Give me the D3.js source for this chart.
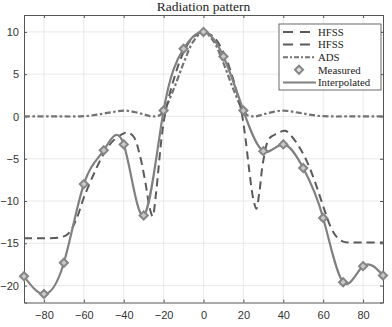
<!DOCTYPE html>
<html><head><meta charset="utf-8">
<script src="https://cdn.jsdelivr.net/npm/d3@7"></script>
<style>body{margin:0;background:#fff}svg{display:block}</style>
</head><body>
<script>
// ---- data ----
const measuredAngles = [-90,-80,-70,-60,-50,-40,-30,-20,-10,0,10,20,30,40,50,60,70,80,90];
const measuredValues = [-18.9,-21.0,-17.3,-8.0,-4.0,-3.3,-11.7,0.7,8.0,10.0,7.1,0.7,-4.1,-3.3,-6.1,-12.0,-19.6,-17.7,-18.8];

const hfssAngles = [-90,-80,-72,-68,-64,-60,-55,-50,-45,-40,-38,-35,-32,-29,-27,-25.5,-24,-22.5,-21,-19,-15,-10,-5,0,5,10,15,19,21,23,25,26.5,28,30,33,37,41,44,48,52,56,60,64,67,70,73,80,90];
const hfssValues = [-14.4,-14.4,-14.3,-13.9,-12.3,-9.6,-6.8,-4.4,-2.8,-2.0,-1.9,-2.4,-4.5,-8.0,-10.8,-11.8,-9.5,-6.0,-2.5,0.6,4.3,7.6,9.4,10.0,9.4,7.6,4.3,0.6,-2.5,-6.5,-9.8,-10.9,-9.0,-5.2,-2.6,-2.0,-1.7,-2.3,-3.6,-5.4,-7.8,-10.6,-13.2,-14.3,-14.8,-14.9,-14.9,-14.9];

const adsAngles = [-90,-70,-65,-60,-55,-50,-45,-40,-35,-30,-27,-25,-22,-20,-15,-10,-5,0,5,10,15,20,22,25,27,30,35,40,45,50,55,60,65,70,90];
const adsValues = [0,0,0,0.03,0.15,0.35,0.55,0.7,0.55,0.25,0.05,0.0,0.15,0.6,3.2,6.3,8.9,10.0,8.9,6.3,3.2,0.6,0.15,0.0,0.05,0.25,0.55,0.7,0.55,0.35,0.15,0.03,0,0,0];

const xTicks = [-80,-60,-40,-20,0,20,40,60,80];
const yTicks = [-20,-15,-10,-5,0,5,10];
const legendLabels = ["HFSS","HFSS","ADS","Measured","Interpolated"];
const title = "Radiation pattern";

// ---- layout ----
const W = 392, H = 327;
const m = {l:24, r:9, t:15, b:24.5};
const svg = d3.select("body").append("svg").attr("width",W).attr("height",H);
const x = d3.scaleLinear().domain([-90,90]).range([m.l, W-m.r]);
const y = d3.scaleLinear().domain([-22,12]).range([H-m.b, m.t]);

svg.append("clipPath").attr("id","c").append("rect")
  .attr("x",m.l).attr("y",m.t).attr("width",W-m.l-m.r).attr("height",H-m.t-m.b);

// grid
const g = svg.append("g");
g.selectAll(".gx").data(xTicks).join("line")
  .attr("x1",d=>x(d)).attr("x2",d=>x(d)).attr("y1",m.t).attr("y2",H-m.b)
  .attr("stroke","#e3e3e3").attr("stroke-width",0.8);
g.selectAll(".gy").data(yTicks).join("line")
  .attr("y1",d=>y(d)).attr("y2",d=>y(d)).attr("x1",m.l).attr("x2",W-m.r)
  .attr("stroke","#e3e3e3").attr("stroke-width",0.8);

// axes
const tickFont = "'Liberation Sans', Arial, sans-serif";
const xa = svg.append("g").attr("transform",`translate(0,${H-m.b})`)
  .call(d3.axisBottom(x).tickValues(xTicks).tickSize(-3).tickPadding(9).tickFormat(d3.format("d")));
const ya = svg.append("g").attr("transform",`translate(${m.l},0)`)
  .call(d3.axisLeft(y).tickValues(yTicks).tickSize(-3).tickPadding(5).tickFormat(d3.format("d")));
const xt = svg.append("g").attr("transform",`translate(0,${m.t})`)
  .call(d3.axisTop(x).tickValues(xTicks).tickSize(-3).tickFormat(""));
const yr = svg.append("g").attr("transform",`translate(${W-m.r},0)`)
  .call(d3.axisRight(y).tickValues(yTicks).tickSize(-3).tickFormat(""));
[xa,ya,xt,yr].forEach(a=>{
  a.selectAll("path").attr("stroke","#555").attr("stroke-width",1);
  a.selectAll("line").attr("stroke","#555");
  a.selectAll("text").attr("font-family",tickFont).attr("font-size",11).attr("fill","#333");
});

// lines
const plot = svg.append("g").attr("clip-path","url(#c)");
function pts(a,v){return a.map((d,i)=>[d,v[i]]);}
const lineC = d3.line().x(d=>x(d[0])).y(d=>y(d[1])).curve(d3.curveCatmullRom.alpha(0.5));
const lineN = d3.line().x(d=>x(d[0])).y(d=>y(d[1])).curve(d3.curveNatural);

const styles = [
  {color:"#5a5a5a", dash:"8,5"},
  {color:"#5a5a5a", dash:"8,5"},
  {color:"#727272", dash:"6,2.5,2.5,2.5"},
  {color:"#888", dash:null},
  {color:"#808080", dash:null}
];

plot.append("path").attr("d",lineC(pts(adsAngles,adsValues)))
  .attr("fill","none").attr("stroke",styles[2].color).attr("stroke-width",2.2).attr("stroke-dasharray",styles[2].dash);
plot.append("path").attr("d",lineC(pts(hfssAngles,hfssValues)))
  .attr("fill","none").attr("stroke",styles[0].color).attr("stroke-width",2).attr("stroke-dasharray",styles[0].dash);
plot.append("path").attr("d",lineN(pts(measuredAngles,measuredValues)))
  .attr("fill","none").attr("stroke",styles[4].color).attr("stroke-width",2.2);

const diamond = d3.symbol().type(d3.symbolDiamond2).size(42);
svg.append("g").selectAll("path").data(pts(measuredAngles,measuredValues)).join("path")
  .attr("d",diamond).attr("transform",d=>`translate(${x(d[0])},${y(d[1])})`)
  .attr("fill","#c8c8c8").attr("stroke","#858585").attr("stroke-width",2);

// title
svg.append("text").attr("x",(m.l+W-m.r)/2).attr("y",11)
  .attr("text-anchor","middle").attr("font-family","'Liberation Serif','DejaVu Serif',serif")
  .attr("font-size",13.5).attr("fill","#222").text(title);

// legend
const lg = svg.append("g");
lg.append("rect").attr("x",279).attr("y",24).attr("width",102).attr("height",66)
  .attr("fill","#fff").attr("stroke","#444").attr("stroke-width",0.8);
legendLabels.forEach((lab,i)=>{
  const yy = 32 + i*12.6;
  const s = styles[i];
  if(i===3){
    lg.append("path").attr("d",diamond).attr("transform",`translate(299,${yy})`)
      .attr("fill","#e0e0e0").attr("stroke","#858585").attr("stroke-width",2);
  } else {
    lg.append("line").attr("x1",283).attr("x2",316).attr("y1",yy).attr("y2",yy)
      .attr("stroke",s.color).attr("stroke-width",2).attr("stroke-dasharray",i<2?"10,7":(i===2?"5,2,2,2":null));
  }
  lg.append("text").attr("x",318).attr("y",yy).attr("dy","0.35em")
    .attr("font-family","'Liberation Serif','DejaVu Serif',serif").attr("font-size",10.8).attr("fill","#222").text(lab);
});
</script>
</body></html>
